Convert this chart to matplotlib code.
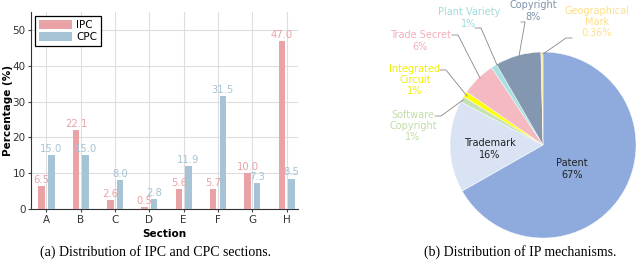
import matplotlib.pyplot as plt
import numpy as np

sections = ['A', 'B', 'C', 'D', 'E', 'F', 'G', 'H']
ipc = [6.5, 22.1, 2.6, 0.5, 5.6, 5.7, 10.0, 47.0]
cpc = [15.0, 15.0, 8.0, 2.8, 11.9, 31.5, 7.3, 8.5]

mechanisms = ['Patent', 'Trademark', 'Software\nCopyright', 'Integrated\nCircuit',
              'Trade Secret', 'Plant Variety', 'Copyright', 'Geographical\nMark']
shares = [67, 16, 1, 1, 6, 1, 8, 0.36]
share_labels = ['67%', '16%', '1%', '1%', '6%', '1%', '8%', '0.36%']

ipc_color = '#E9A3A6'
cpc_color = '#A7C3D6'
pie_colors = ['#8FAADC', '#DAE3F3', '#C5E0B4', '#FFFF00',
              '#F4B9C1', '#A9E2E2', '#8497B0', '#FFE699']
label_colors = ['#222222', '#222222', '#BFDDA8', '#F0F000',
                '#F2AFB8', '#A0DCDC', '#8093AD', '#FDDF8A']

W, H = 640, 267
fig = plt.figure(figsize=(W / 100, H / 100), dpi=100)

# ---- (a) bar chart
ax = fig.add_axes([31 / W, 1 - 209 / H, (298 - 31) / W, (209 - 12) / H])
x = np.arange(len(sections))
bw = 0.19
off = 0.14
ax.bar(x - off, ipc, bw, color=ipc_color, label='IPC', zorder=3)
ax.bar(x + off, cpc, bw, color=cpc_color, label='CPC', zorder=3)
for i in range(len(sections)):
    ax.text(x[i] - off, ipc[i] + 0.3, f'{ipc[i]:.1f}', ha='center', va='bottom',
            color=ipc_color, fontsize=7.2, zorder=4)
    ax.text(x[i] + off, cpc[i] + 0.3, f'{cpc[i]:.1f}', ha='center', va='bottom',
            color=cpc_color, fontsize=7.2, zorder=4)
ax.set_xlim(-0.45, 7.33)
ax.set_ylim(0, 55)
ax.set_yticks(range(0, 51, 10))
ax.set_xticks(x)
ax.set_xticklabels(sections)
ax.tick_params(labelsize=7.5, length=2, color='#444444', labelcolor='#333333', pad=2)
ax.grid(True, color='#DDDDDD', linewidth=0.8, zorder=0)
for s in ['top', 'right']:
    ax.spines[s].set_visible(False)
for s in ['left', 'bottom']:
    ax.spines[s].set_color('#333333')
ax.set_ylabel('Percentage (%)', fontsize=7.5, fontweight='bold')
ax.yaxis.set_label_coords(-0.068, 0.5)
ax.set_xlabel('Section', fontsize=7.5, fontweight='bold', labelpad=3)
leg = ax.legend(loc='upper left', fontsize=7.5, handlelength=3.2, handleheight=0.9,
                borderpad=0.35, labelspacing=0.25, handletextpad=0.4,
                fancybox=False, framealpha=1, borderaxespad=0.4)
leg.get_frame().set_edgecolor('black')
leg.get_frame().set_linewidth(0.9)

# ---- (b) pie chart, 1 data unit = R pixels, centre at (CX, CY)
CX, CY, R = 543, 145, 93
pax = fig.add_axes([330 / W, 0, 310 / W, 1])
pax.pie(shares, colors=pie_colors, startangle=90, counterclock=False,
        wedgeprops=dict(edgecolor='white', linewidth=0.3))
pax.set_xlim((330 - CX) / R, (640 - CX) / R)
pax.set_ylim(-(H - CY) / R, CY / R)
pax.set_axis_off()


def px(u, v):
    return (u - CX) / R, (CY - v) / R


label_pos = [(572, 169), (490, 149), (413, 126), (415, 80),
             (420, 41), (469, 18), (533, 11), (597, 22)]
for name, pct, col, pos in zip(mechanisms, share_labels, label_colors, label_pos):
    pax.text(*px(*pos), f'{name}\n{pct}', ha='center', va='center', fontsize=7,
             color=col, linespacing=1.15)

leaders = [
    [(435, 116), (441, 116), (463, 100)],
    [(440, 70), (446, 70), (467, 96)],
    [(452, 35), (458, 35), (480, 78)],
    [(475, 28), (481, 28), (497, 65)],
    [(521, 22), (525, 22), (519, 56)],
    [(572, 38), (566, 38), (543, 54)],
]
for pts in leaders:
    xs, ys = zip(*[px(*p) for p in pts])
    pax.plot(xs, ys, color='#888888', linewidth=0.6)

# ---- captions
fig.text(155 / W, 1 - 252 / H, '(a) Distribution of IPC and CPC sections.',
         ha='center', va='center', fontsize=10, family='Liberation Serif')
fig.text(520 / W, 1 - 252 / H, '(b) Distribution of IP mechanisms.',
         ha='center', va='center', fontsize=10, family='Liberation Serif')

fig.savefig('out.png', dpi=100)
